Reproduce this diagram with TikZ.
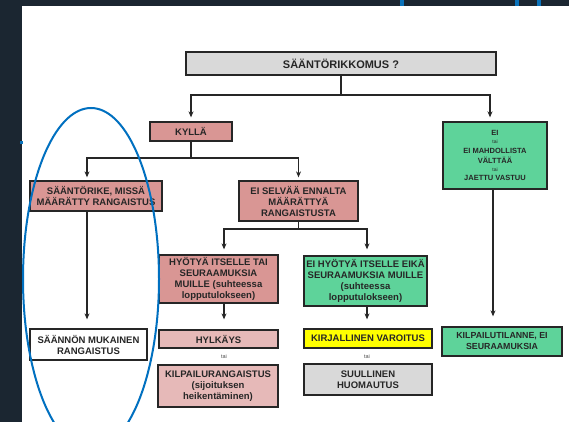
\documentclass[tikz,border=0pt]{standalone}
\usepackage{fontspec}
\setmainfont{Liberation Sans}
\usetikzlibrary{arrows.meta}

\definecolor{bgdark}{HTML}{1B2631}
\definecolor{markblue}{HTML}{0A72BA}
\definecolor{ovalblue}{HTML}{0070C0}
\definecolor{boxred}{HTML}{D99694}
\definecolor{boxpink}{HTML}{E6B9B8}
\definecolor{boxgreen}{HTML}{5ED39A}
\definecolor{boxgray}{HTML}{D9D9D9}
\definecolor{boxyellow}{HTML}{FFFF00}
\definecolor{ink}{HTML}{262626}

\begin{document}
\begin{tikzpicture}[x=1pt, y=-1pt,
        box/.style={draw=ink, line width=1.3pt, inner sep=0pt, align=center,
            font=\fontsize{9.5}{11}\selectfont\bfseries, text=ink},
        link/.style={draw=ink, line width=1.2pt},
        arr/.style={link, -{Stealth[length=6pt,width=5pt]}},
        tai/.style={font=\fontsize{5.5}{6}\selectfont, text=black!70}]
        \useasboundingbox (0,0) rectangle (569,422);
        \fill[bgdark] (0,0) rectangle (569,422);
        \fill[white] (22,6) rectangle (569,422);
        \fill[markblue] (400,0) rectangle (404,6);
        \fill[markblue] (515,0) rectangle (519,6);
        \fill[markblue] (537,0) rectangle (541,6);
        \fill[markblue] (20,141) rectangle (23,144);

        \node[box, fill=boxgray, minimum width=310, minimum height=23,
            font=\fontsize{11}{12}\selectfont\bfseries] (rikkomus) at (341, 63.5) {SÄÄNTÖRIKKOMUS ?};
        \node[box, fill=boxred, minimum width=82, minimum height=19] (kylla) at (191, 131.5) {KYLLÄ};
        \node[box, fill=boxgreen, minimum width=104, minimum height=67,
            font=\fontsize{7.5}{10}\selectfont\bfseries] (ei) at (495, 155.5)
            {EI\\[-2pt] {\fontsize{5}{5}\selectfont\mdseries tai}\\ EI MAHDOLLISTA\\ VÄLTTÄÄ\\[-2pt]
             {\fontsize{5}{5}\selectfont\mdseries tai}\\[-1pt] JAETTU VASTUU};

        \node[box, fill=boxred, minimum width=132, minimum height=30] (rike) at (96, 196)
            {SÄÄNTÖRIKE, MISSÄ\\ MÄÄRÄTTY RANGAISTUS};
        \node[box, fill=boxred, minimum width=119, minimum height=40] (selvaa) at (298.5, 201)
            {EI SELVÄÄ ENNALTA\\ MÄÄRÄTTYÄ\\ RANGAISTUSTA};

        \node[box, fill=boxred, minimum width=119, minimum height=48] (hyoty) at (218.5, 279)
            {HYÖTYÄ ITSELLE TAI\\ SEURAAMUKSIA\\ MUILLE (suhteessa\\ lopputulokseen)};
        \node[box, fill=boxgreen, minimum width=123, minimum height=50] (eihyoty) at (365.5, 281)
            {EI HYÖTYÄ ITSELLE EIKÄ\\ SEURAAMUKSIA MUILLE\\ (suhteessa\\ lopputulokseen)};

        \node[box, fill=white, minimum width=117, minimum height=31] (saannon) at (88.5, 344.5)
            {SÄÄNNÖN MUKAINEN\\ RANGAISTUS};
        \node[box, fill=boxpink, minimum width=119, minimum height=18] (hylkays) at (218.5, 339) {HYLKÄYS};
        \node[tai] (tai1) at (224, 357) {tai};
        \node[box, fill=boxpink, minimum width=120, minimum height=42] (kilpailu) at (218, 386)
            {KILPAILURANGAISTUS\\ (sijoituksen\\ heikentäminen)};
        \node[box, fill=boxyellow, minimum width=128, minimum height=19] (varoitus) at (368, 338.5)
            {KIRJALLINEN VAROITUS};
        \node[tai] (tai2) at (367, 357) {tai};
        \node[box, fill=boxgray, minimum width=128, minimum height=31] (suullinen) at (368, 379.5)
            {SUULLINEN\\ HUOMAUTUS};
        \node[box, fill=boxgreen, minimum width=120, minimum height=29,
            font=\fontsize{8.8}{11}\selectfont\bfseries] (tilanne) at (502, 341.5)
            {KILPAILUTILANNE, EI\\ SEURAAMUKSIA};

        \coordinate (j1) at (341, 95);
        \coordinate (j2) at (191, 158);
        \coordinate (j3) at (298.5, 229);

        \draw[link] (rikkomus.south) -- (j1);
        \draw[arr, shorten >=4pt] (j1) -| (kylla.north);
        \draw[arr, shorten >=4pt] (j1) -| ([xshift=-5pt]ei.north);

        \draw[link] (kylla.south) -- (j2);
        \draw[arr, shorten >=3pt] (j2) -| ([xshift=-9pt]rike.north);
        \draw[arr, shorten >=3pt] (j2) -| (selvaa.north);

        \draw[link] (selvaa.south) -- (j3);
        \draw[arr, shorten >=5pt] (j3) -| ([xshift=5.5pt]hyoty.north);
        \draw[arr, shorten >=6pt] (j3) -| ([xshift=1.5pt]eihyoty.north);

        \draw[arr, shorten >=9pt] ([xshift=-9pt]rike.south) -- ([xshift=-1.5pt]saannon.north);
        \draw[arr, shorten >=10pt] ([xshift=5.5pt]hyoty.south) -- ([xshift=5.5pt]hylkays.north);
        \draw[arr, shorten >=9pt] ([xshift=1.5pt]eihyoty.south) -- ([xshift=-1pt]varoitus.north);
        \draw[arr, shorten >=10pt] ([xshift=-2pt]ei.south) -- ([xshift=-9pt]tilanne.north);

        \draw[ovalblue, line width=2pt] (91, 279) ellipse [x radius=68, y radius=171];
    \end{tikzpicture}
\end{document}
